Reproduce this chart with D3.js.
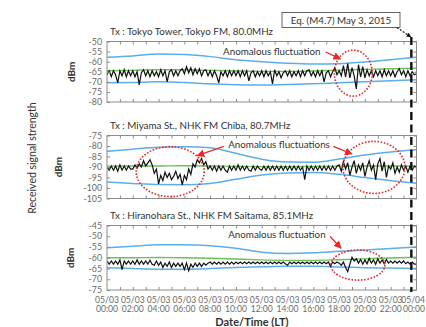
<!DOCTYPE html>
<html>
<head>
<meta charset="utf-8">
<script src="https://cdn.jsdelivr.net/npm/d3@7"></script>
<style>
  html, body { margin: 0; padding: 0; background: #fff; }
  svg text { font-family: Lato, "Liberation Sans", sans-serif; }
</style>
</head>
<body>
<figure id="chart" style="margin:0"></figure>
<script>
// hours of 05/03, one sample every 10 min for the black trace
const stepMin = 10;
const tickHours = [0, 2, 4, 6, 8, 10, 12, 14, 16, 18, 20, 22, 24];
const tickDates = ['05/03', '05/03', '05/03', '05/03', '05/03', '05/03', '05/03',
  '05/03', '05/03', '05/03', '05/03', '05/03', '05/04'];
const tickTimes = ['00:00', '02:00', '04:00', '06:00', '08:00', '10:00', '12:00',
  '14:00', '16:00', '18:00', '20:00', '22:00', '00:00'];
const bandHours = [0, 2, 4, 6, 8, 10, 12, 14, 16, 18, 20, 22, 24];
const eqHour = 23.6;

const titles = [
  'Tx : Tokyo Tower, Tokyo FM, 80.0MHz',
  'Tx : Miyama St., NHK FM Chiba, 80.7MHz',
  'Tx : Hiranohara St., NHK FM Saitama, 85.1MHz'
];
const yDomains = [[-80, -50], [-105, -75], [-75, -45]];

// Tokyo FM
const tokyoSignal = [
  -66.5, -64.5, -67.5, -64.5, -66.5, -70.5, -64.5, -67, -64, -67.5, -64.5, -67,
  -64.5, -67.5, -65, -71.5, -65.5, -64, -67, -64.5, -67.5, -64.5, -67, -65,
  -67.5, -64, -67, -64.5, -70, -65, -64, -67, -64.5, -67, -64.5, -63.5,
  -66, -62.5, -65.5, -63, -66.5, -63.5, -66, -63.5, -67, -64.5, -64, -67,
  -64.5, -67.5, -64.5, -67, -70.5, -65, -67, -64.5, -67.5, -64.5, -67, -64.5,
  -67, -64.5, -67.5, -64.5, -67, -64.5, -69.5, -65.5, -64.5, -67.5, -65, -67,
  -64.5, -67.5, -64.5, -67, -65, -71, -64, -67, -65, -68, -65.5, -64.5,
  -67, -64.5, -67.5, -65, -67, -64.5, -67.5, -64.5, -67, -64.5, -64, -67,
  -65, -67.5, -64.5, -67, -64.5, -70, -65.5, -64.5, -67.5, -65, -63, -66.5,
  -64.5, -67, -62, -67.5, -61, -68, -63, -67, -73.5, -61.5, -67.5, -62.5,
  -68, -64, -67, -64.5, -67.5, -64.5, -67, -64.5, -67.5, -64, -67, -64.5,
  -67, -64.5, -67.5, -65, -63.5, -66.5, -64.5, -67.5, -64.5, -67, -65, -66.5, -66
];
const tokyoUpper = [-57.8, -57.2, -56.2, -56.5, -57.5, -59, -60, -60.8, -61.2, -61, -60.2, -59, -57.8];
const tokyoLower = [-70.5, -70.3, -70, -70.3, -71, -71.4, -71.6, -71.3, -71, -70.5, -70, -69.5, -69];
const tokyoMean = [-64.5, -64.3, -64, -64, -64.3, -64.6, -64.8, -64.8, -64.6, -64.2, -63.8, -63.5, -63.3];

// NHK FM Chiba
const chibaSignal = [
  -90, -91.5, -89.5, -91.5, -89.5, -92, -89, -91.5, -89.5, -91.5, -89.5, -91,
  -91, -89, -90.5, -88.5, -90, -87, -89.5, -88, -86.5, -89, -93, -91,
  -98, -94, -96.5, -92.5, -95, -93, -96, -94.5, -92, -95.5, -93.5, -98.5,
  -94, -96, -91, -93.5, -88.5, -90, -86.5, -88, -86, -89, -87.5, -91,
  -89.5, -91.5, -89.5, -92, -89.5, -91.5, -89.5, -91.5, -92.5, -89.5, -91.5, -89.5,
  -91.5, -89, -91.5, -89.5, -91.5, -89.5, -91.5, -92, -89.5, -91.5, -89.5, -91,
  -91.5, -89.5, -91.5, -89.5, -91.5, -89.5, -91.5, -89.5, -91.5, -89.5, -91.5, -89.5,
  -91.5, -89.5, -91.5, -89.5, -91.5, -89.5, -91.5, -90, -96, -89.5, -91.5, -89.5,
  -91.5, -89.5, -91.5, -89.5, -91.5, -89.5, -91.5, -89.5, -91.5, -89.5, -91.5, -89.5,
  -89, -92, -87.5, -91, -88, -94, -90, -87, -93, -89, -91.5, -88,
  -94.5, -90, -87, -91.5, -89, -96, -88.5, -86, -92, -87.5, -95, -89.5,
  -91, -88, -93, -90, -92.5, -89, -91.5, -89.5, -92.5, -89.5, -91.5, -89.5, -90.5
];
const chibaUpper = [-82.5, -81.5, -80.6, -80.3, -80.8, -83.5, -86.3, -87.6, -87.7, -86.2, -84.3, -82.8, -81.8];
const chibaLower = [-97.2, -97.8, -98.3, -98.4, -97.8, -95.8, -93.8, -92.8, -92.6, -93.5, -95, -96.5, -97.7];
const chibaMean = [-89.6, -89.5, -89.5, -89.4, -89.5, -89.7, -89.8, -89.8, -89.7, -89.6, -89.5, -89.5, -89.6];

// NHK FM Saitama
const saitamaSignal = [
  -61.5, -63, -61.5, -63, -61.5, -63, -61, -65.5, -61.5, -63, -61.5, -63,
  -61.5, -63, -61, -63, -61.5, -63, -61.5, -63, -61.2, -63, -63.5, -61.5,
  -63.5, -62, -64.5, -62.5, -64, -62, -64.5, -62.5, -64, -62.5, -64, -62.5,
  -65.5, -62.5, -66, -63, -64.5, -62.5, -64, -62.5, -64, -62.5, -63.5, -62.5,
  -62, -63, -62, -63, -62, -63, -62, -63, -62, -63, -62, -63,
  -62, -62.8, -62, -62.8, -62, -62.8, -62, -62.8, -62, -62.8, -62, -62.8,
  -62, -62.8, -62, -62.8, -62, -62.8, -62, -62.8, -62, -62.8, -62, -62.8,
  -63.5, -62, -62.8, -62, -62.8, -62, -62.8, -62, -62.8, -62, -62.8, -62,
  -62.8, -62, -62.8, -62, -62.8, -62, -62.8, -62, -64, -62, -62.8, -62,
  -62.5, -63.5, -62, -64.5, -66.5, -63, -59.8, -61.5, -60.5, -62.5, -60.8, -63,
  -61, -62.8, -60.3, -62.5, -61, -63, -60.5, -62.5, -61, -62.8, -60.8, -62.5,
  -61.5, -62.5, -61.5, -62.5, -61.5, -62.5, -61.5, -62.8, -62, -63, -62, -63, -63
];
const saitamaUpper = [-55.3, -54.6, -54, -54, -54.4, -55.6, -57.4, -58, -57.7, -57, -56.4, -55.7, -55];
const saitamaLower = [-64.6, -65, -65.3, -65.3, -65, -64.5, -64.2, -64, -64, -64.3, -64.6, -64.8, -65];
const saitamaMean = [-60, -60, -59.9, -60, -60.2, -60.6, -61, -61.2, -61.2, -60.9, -60.5, -60.1, -59.8];

// annotations: [centre hour, centre dBm, radius hours, radius dB]
const ellipses = [
  [[19.1, -65.7, 1.47, 11.4]],
  [[4.9, -92.2, 2.64, 11.9], [20.7, -90.2, 2.4, 12.4]],
  [[19.46, -63.4, 2.09, 7]]
];
const notes = ['Anomalous fluctuation', 'Anomalous fluctuations', 'Anomalous fluctuation'];
const notePos = [[9.0, -55.2], [9.4, -79.5], [9.4, -49.4]];
// arrows: [from hour, from dBm, to hour, to dBm]
const arrows = [
  [[16.95, -55.2, 18.1, -58.6]],
  [[9.05, -80.2, 7.0, -84.6], [17.55, -80.2, 19.0, -83.8]],
  [[17.3, -50.1, 18.15, -55.6]]
];

const signals = [tokyoSignal, chibaSignal, saitamaSignal];
const uppers = [tokyoUpper, chibaUpper, saitamaUpper];
const lowers = [tokyoLower, chibaLower, saitamaLower];
const means = [tokyoMean, chibaMean, saitamaMean];

const width = 426, height = 327;
const left = 107, right = 416.5;
const panelBox = [[41.5, 102], [135.5, 198.5], [225.5, 290]];
const dbmX = [75, 62, 74];

const svg = d3.select('#chart').append('svg')
  .attr('width', width).attr('height', height);

const defs = svg.append('defs');
defs.append('marker').attr('id', 'redHead')
  .attr('viewBox', '0 0 10 10').attr('refX', 9).attr('refY', 5)
  .attr('markerWidth', 6).attr('markerHeight', 6).attr('orient', 'auto')
  .append('path').attr('d', 'M0,0L10,5L0,10z').attr('fill', '#e8282a');
defs.append('marker').attr('id', 'blackHead')
  .attr('viewBox', '0 0 10 10').attr('refX', 9).attr('refY', 5)
  .attr('markerWidth', 4).attr('markerHeight', 4).attr('orient', 'auto')
  .append('path').attr('d', 'M0,0L10,5L0,10z').attr('fill', '#111');

const x = d3.scaleLinear().domain([0, 24]).range([left, right]);

titles.forEach((title, i) => {
  const y = d3.scaleLinear().domain(yDomains[i]).range([panelBox[i][1], panelBox[i][0]]);
  const g = svg.append('g');
  const clipId = 'clip' + i;
  defs.append('clipPath').attr('id', clipId).append('rect')
    .attr('x', left).attr('y', panelBox[i][0])
    .attr('width', right - left).attr('height', panelBox[i][1] - panelBox[i][0]);

  g.append('text').attr('x', left + 3).attr('y', panelBox[i][0] - 7)
    .attr('font-size', 9.8).attr('fill', '#333').text(title);

  // y axis labels
  const yTicks = d3.range(yDomains[i][1], yDomains[i][0] - 1, -5);
  g.selectAll('.yl').data(yTicks).enter().append('text')
    .attr('x', left - 5).attr('y', d => y(d) + 3)
    .attr('text-anchor', 'end').attr('font-size', 8.8).attr('fill', '#6a6a6a')
    .text(d => d);

  g.append('text')
    .attr('transform', 'translate(' + dbmX[i] + ',' + ((panelBox[i][0] + panelBox[i][1]) / 2) + ')rotate(-90)')
    .attr('text-anchor', 'middle').attr('font-size', 10).attr('font-weight', 'bold')
    .attr('fill', '#333').text('dBm');

  const plot = g.append('g').attr('clip-path', 'url(#' + clipId + ')');
  const smooth = d3.line().x((d, k) => x(bandHours[k])).y(d => y(d)).curve(d3.curveMonotoneX);

  [uppers[i], lowers[i]].forEach(arr => {
    plot.append('path').attr('d', smooth(arr)).attr('fill', 'none')
      .attr('stroke', '#5cadea').attr('stroke-width', 1.5);
  });
  plot.append('path').attr('d', smooth(means[i])).attr('fill', 'none')
    .attr('stroke', '#6cc05a').attr('stroke-width', 1.4);

  const trace = d3.line().x((d, k) => x(k * stepMin / 60)).y(d => y(d));
  plot.append('path').attr('d', trace(signals[i])).attr('fill', 'none')
    .attr('stroke', '#111').attr('stroke-width', 1.2);

  // frame and inner ticks
  g.append('rect').attr('x', left).attr('y', panelBox[i][0])
    .attr('width', right - left).attr('height', panelBox[i][1] - panelBox[i][0])
    .attr('fill', 'none').attr('stroke', '#8c8c8c').attr('stroke-width', 1);
  g.append('g').attr('transform', 'translate(0,' + panelBox[i][1] + ')')
    .call(d3.axisTop(x).tickValues(d3.range(1, 24)).tickSize(3).tickFormat(''))
    .call(a => a.select('.domain').remove())
    .selectAll('line').attr('stroke', '#8c8c8c');
  g.append('g').attr('transform', 'translate(0,' + panelBox[i][0] + ')')
    .call(d3.axisBottom(x).tickValues(d3.range(1, 24)).tickSize(3).tickFormat(''))
    .call(a => a.select('.domain').remove())
    .selectAll('line').attr('stroke', '#8c8c8c');
  g.append('g').attr('transform', 'translate(' + left + ',0)')
    .call(d3.axisRight(y).tickValues(yTicks).tickSize(3).tickFormat(''))
    .call(a => a.select('.domain').remove())
    .selectAll('line').attr('stroke', '#8c8c8c');
  g.append('g').attr('transform', 'translate(' + right + ',0)')
    .call(d3.axisLeft(y).tickValues(yTicks).tickSize(3).tickFormat(''))
    .call(a => a.select('.domain').remove())
    .selectAll('line').attr('stroke', '#8c8c8c');

  // annotations
  ellipses[i].forEach(e => {
    g.append('ellipse').attr('cx', x(e[0])).attr('cy', y(e[1]))
      .attr('rx', x(e[2]) - x(0)).attr('ry', y(0) - y(e[3]))
      .attr('fill', 'none').attr('stroke', '#e8282a').attr('stroke-width', 1.6)
      .attr('stroke-dasharray', '1.6,1.6');
  });
  g.append('text').attr('x', x(notePos[i][0])).attr('y', y(notePos[i][1]) + 3)
    .attr('font-size', 9.8).attr('fill', '#333').text(notes[i]);
  arrows[i].forEach(a => {
    g.append('line').attr('x1', x(a[0])).attr('y1', y(a[1]))
      .attr('x2', x(a[2])).attr('y2', y(a[3]))
      .attr('stroke', '#e8282a').attr('stroke-width', 1.3)
      .attr('marker-end', 'url(#redHead)');
  });

  // x labels under last panel; the last one is kept inside the page edge
  if (i === 2) {
    const lastIdx = tickHours.length - 1;
    const lab = g.selectAll('.xl').data(tickHours).enter().append('text')
      .attr('text-anchor', (d, k) => k === lastIdx ? 'end' : 'middle')
      .attr('font-size', 8.6).attr('fill', '#6a6a6a');
    const lx = (d, k) => k === lastIdx ? width - 1 : x(d);
    lab.append('tspan').attr('x', lx).attr('y', panelBox[i][1] + 12.5)
      .text((d, k) => tickDates[k]);
    lab.append('tspan').attr('x', lx).attr('y', panelBox[i][1] + 22)
      .text((d, k) => tickTimes[k]);
  }
});

// earthquake marker
svg.append('line').attr('x1', x(eqHour)).attr('x2', x(eqHour))
  .attr('y1', 37).attr('y2', 292)
  .attr('stroke', '#111').attr('stroke-width', 2.4).attr('stroke-dasharray', '8,4.5');
svg.append('rect').attr('x', 282).attr('y', 12.5).attr('width', 118).attr('height', 15)
  .attr('fill', '#fff').attr('stroke', '#555').attr('stroke-width', 0.9);
svg.append('text').attr('x', 341).attr('y', 23.5).attr('text-anchor', 'middle')
  .attr('font-size', 9.8).attr('fill', '#333').text('Eq. (M4.7) May 3, 2015');
svg.append('line').attr('x1', 397).attr('y1', 27.5).attr('x2', x(eqHour) - 0.5).attr('y2', 37)
  .attr('stroke', '#111').attr('stroke-width', 1.2).attr('stroke-dasharray', '2,1.5')
  .attr('marker-end', 'url(#blackHead)');

svg.append('text')
  .attr('transform', 'translate(36,158)rotate(-90)')
  .attr('text-anchor', 'middle').attr('font-size', 10.5).attr('fill', '#333')
  .text('Received  signal  strength');
svg.append('text').attr('x', 252).attr('y', 326).attr('text-anchor', 'middle')
  .attr('font-size', 11).attr('font-weight', 'bold').attr('fill', '#333')
  .text('Date/Time (LT)');
</script>
</body>
</html>
